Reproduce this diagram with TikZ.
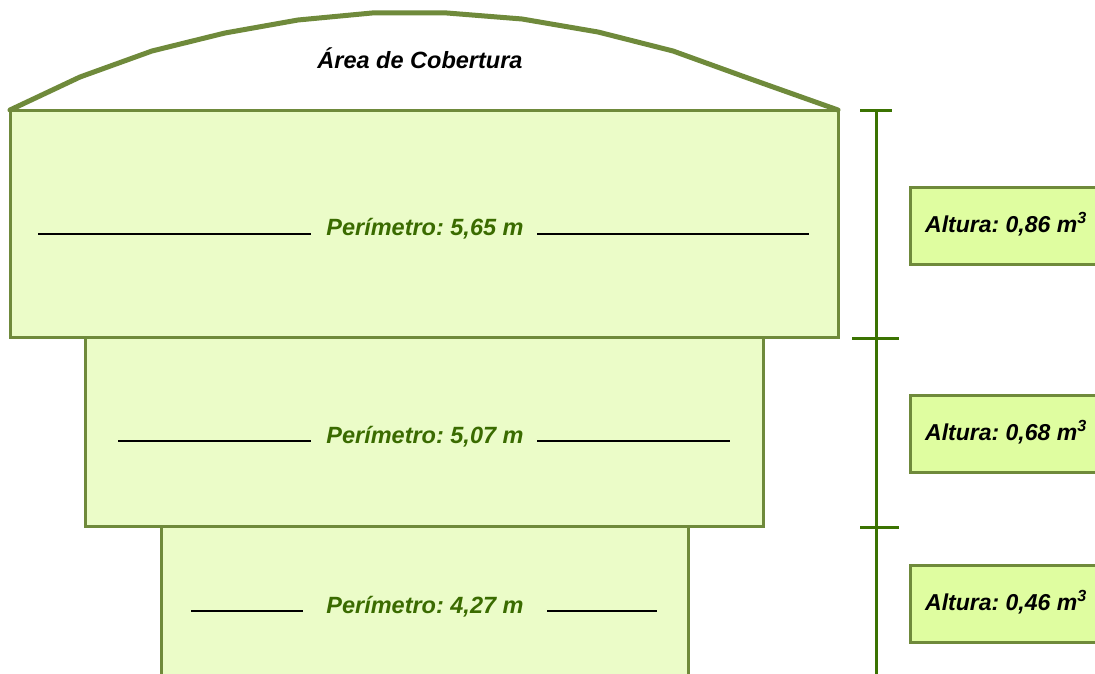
\documentclass[tikz,border=0pt]{standalone}
\usepackage{fontspec}
\setmainfont{Liberation Sans}
\frenchspacing
\definecolor{olive}{HTML}{6F8A3B}
\definecolor{tankfill}{HTML}{EBFCC8}
\definecolor{labfill}{HTML}{DFFDA0}
\definecolor{scalegreen}{HTML}{3B7301}
\definecolor{pertext}{HTML}{3A6B00}
\tikzset{
  tank/.style={draw=olive, fill=tankfill, line width=3pt, rectangle, inner sep=0pt},
  lab/.style={draw=olive, fill=labfill, line width=3pt, rectangle, inner sep=0pt, minimum width=230pt, minimum height=77pt},
  labtext/.style={font=\bfseries\itshape\fontsize{23}{25}\selectfont, anchor=west, inner sep=0pt},
  pertxt/.style={font=\bfseries\itshape\fontsize{23.5}{25}\selectfont, text=pertext, inner sep=0pt},
  guide/.style={draw=black, line width=1.2pt},
  scaleline/.style={draw=scalegreen, line width=3pt},
  roof/.style={draw=olive, line width=5pt, line join=round, line cap=round}
}
\begin{document}
\begin{tikzpicture}[x=1pt,y=-1pt]
\useasboundingbox (0,0) rectangle (1095,674);
\clip (0,0) rectangle (1095,674);
\fill[white] (0,0) rectangle (1095,674);
% tanks
\node[tank, minimum width=527pt, minimum height=190pt] (t3) at (424.5,621) {};
\node[tank, minimum width=678pt, minimum height=189pt] (t2) at (424,431.5) {};
\node[tank, minimum width=828pt, minimum height=226pt] (t1) at (424,224) {};
% roof
\coordinate (r0) at (10,110);
\coordinate (r11) at (838,110);
\draw[roof] (r0) -- (80,77) -- (152,51) -- (225,33) -- (298,20) -- (372,13) -- (447,13) -- (522,19) -- (598,32) -- (673,51) -- (745,77) -- (r11);
\node[font=\bfseries\itshape\fontsize{23.5}{25}\selectfont, inner sep=0pt] (cob) at (420,58) {Área de Cobertura};
% perimeter labels
\node[pertxt] (p1) at (425,229) {Perímetro: 5,65 m};
\node[pertxt] (p2) at (425,437) {Perímetro: 5,07 m};
\node[pertxt] (p3) at (425,607) {Perímetro: 4,27 m};
\coordinate (a1) at (38,234); \coordinate (b1) at (311,234);
\coordinate (c1) at (537,234); \coordinate (d1) at (809,234);
\coordinate (a2) at (118,441); \coordinate (b2) at (311,441);
\coordinate (c2) at (537,441); \coordinate (d2) at (730,441);
\coordinate (a3) at (191,611); \coordinate (b3) at (303,611);
\coordinate (c3) at (547,611); \coordinate (d3) at (657,611);
\draw[guide] (a1) -- (b1) (c1) -- (d1);
\draw[guide] (a2) -- (b2) (c2) -- (d2);
\draw[guide] (a3) -- (b3) (c3) -- (d3);
% scale
\coordinate (s0) at (876,111);
\coordinate (s3) at (876,690);
\draw[scaleline] (s0) -- (s3);
\coordinate (k1a) at (860,111); \coordinate (k1b) at (892,111);
\coordinate (k2a) at (852,338); \coordinate (k2b) at (899,338);
\coordinate (k3a) at (860,527); \coordinate (k3b) at (899,527);
\draw[scaleline] (k1a) -- (k1b) (k2a) -- (k2b) (k3a) -- (k3b);
% height labels
\node[lab, anchor=north west] (h1) at (909,186) {};
\node[lab, anchor=north west] (h2) at (909,394) {};
\node[lab, anchor=north west] (h3) at (909,564) {};
\node[labtext] (h1t) at (925,224) {Altura: 0,86 m\textsuperscript{3}};
\node[labtext] (h2t) at (925,432) {Altura: 0,68 m\textsuperscript{3}};
\node[labtext] (h3t) at (925,602) {Altura: 0,46 m\textsuperscript{3}};
\end{tikzpicture}
\end{document}
